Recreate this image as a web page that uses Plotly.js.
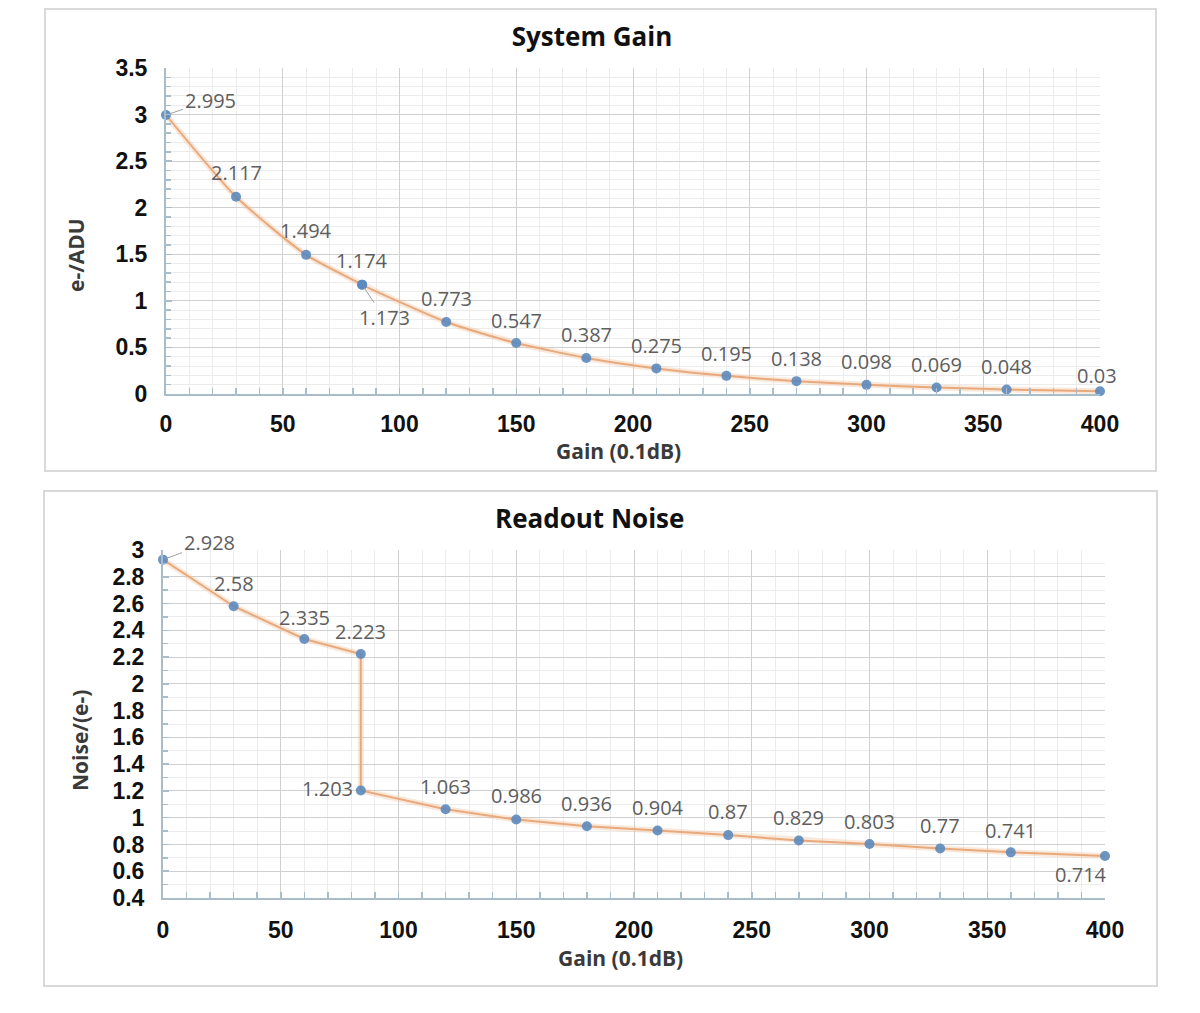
<!DOCTYPE html>
<html>
<head>
<meta charset="utf-8">
<script src="https://cdn.plot.ly/plotly-3.0.1.min.js"></script>
<style>html,body{margin:0;padding:0;background:#fff;}#chart{width:1200px;height:1013px;}</style>
</head>
<body>
<div id="chart"></div>
<script>
// ---- data ----
const gainX = [0, 30, 60, 84, 84, 120, 150, 180, 210, 240, 270, 300, 330, 360, 400];
const gainY = [2.995, 2.117, 1.494, 1.174, 1.173, 0.773, 0.547, 0.387, 0.275, 0.195, 0.138, 0.098, 0.069, 0.048, 0.03];
const noiseX = [0, 30, 60, 84, 84, 120, 150, 180, 210, 240, 270, 300, 330, 360, 400];
const noiseY = [2.928, 2.58, 2.335, 2.223, 1.203, 1.063, 0.986, 0.936, 0.904, 0.87, 0.829, 0.803, 0.77, 0.741, 0.714];
const gainTitle = "System Gain";
const noiseTitle = "Readout Noise";
const xTitle = "Gain (0.1dB)";
const gainYTitle = "e-/ADU";
const noiseYTitle = "Noise/(e-)";

// ---- label placement (pixel offsets, style only) ----
const gainLabelOff = [[44,-15,1],[0,-24,0],[0,-24,0],[0,-24,0],[22,33,1],[0,-23,0],[0,-23,0],[0,-23,0],[0,-23,0],[0,-22,0],[0,-23,0],[0,-23,0],[0,-23,0],[0,-23,0],[-3,-16,0]];
const noiseLabelOff = [[46,-17,1],[0,-23,0],[0,-22,0],[0,-23,0],[-33,-2,0],[0,-23,0],[0,-24,0],[0,-23,0],[0,-23,0],[0,-24,0],[0,-23,0],[0,-23,0],[0,-23,0],[0,-22,0],[-24,19,0]];

const W = 1200, H = 1013;
const px = v => v / W;
const py = v => 1 - v / H;

const lineColor = '#e8a97c';
const markerColor = 'rgba(92,138,190,0.9)';
const axisCol = '#a9bcc9';
const labelFont = {family: 'Open Sans, sans-serif', size: 20, color: '#5e5e5e'};

function mkTraces(x, y, xa, ya, shape) {
  return [
    {x: x, y: y, xaxis: xa, yaxis: ya, mode: 'lines', type: 'scatter',
     line: {color: 'rgba(240,190,150,0.35)', width: 6, shape: shape, smoothing: 0.6}, hoverinfo: 'skip', showlegend: false, cliponaxis: false},
    {x: x, y: y, xaxis: xa, yaxis: ya, mode: 'lines+markers', type: 'scatter',
     line: {color: lineColor, width: 2, shape: shape, smoothing: 0.6},
     marker: {color: markerColor, size: 10}, showlegend: false, cliponaxis: false}
  ];
}

const traces = [].concat(mkTraces(gainX, gainY, 'x', 'y', 'spline'), mkTraces(noiseX, noiseY, 'x2', 'y2', 'linear'));

const annotations = [];
function addLabels(x, y, offs, xr, yr) {
  for (let i = 0; i < x.length; i++) {
    const o = offs[i];
    annotations.push({
      x: x[i], y: y[i], xref: xr, yref: yr, text: String(y[i]),
      showarrow: true, ax: o[0], ay: o[1], arrowhead: 0, arrowwidth: 1, standoff: 4,
      arrowcolor: o[2] ? '#a0a0a0' : 'rgba(0,0,0,0)', font: labelFont
    });
  }
}
addLabels(gainX, gainY, gainLabelOff, 'x', 'y');
addLabels(noiseX, noiseY, noiseLabelOff, 'x2', 'y2');

const bigTitle = {family: 'Open Sans, sans-serif', size: 26, color: '#111', weight: 'bold'};
const titleFont = {family: 'Open Sans, sans-serif', size: 21, color: '#3a3a3a', weight: 'bold'};

function paperText(text, x, y, font, angle) {
  annotations.push({text: text, xref: 'paper', yref: 'paper', x: px(x), y: py(y), showarrow: false,
    xanchor: 'center', yanchor: 'middle', font: font, textangle: angle || 0});
}
paperText(noiseTitle, 589, 518, bigTitle);
paperText(xTitle, 618, 451, titleFont);
paperText(xTitle, 620, 958, titleFont);
paperText(gainYTitle, 76, 255, titleFont, -90);
paperText(noiseYTitle, 80, 741, titleFont, -90);

const tickFont = {family: 'Liberation Sans, Arial, sans-serif', size: 23, color: '#111', weight: 'bold'};

function xAxis(domain, anchor, standoff) {
  return {domain: domain, anchor: anchor, range: [0, 400], dtick: 50, tick0: 0,
    showgrid: true, gridcolor: '#d0d0d0', gridwidth: 1, zeroline: false,
    showline: true, linecolor: axisCol, linewidth: 2,
    ticks: 'inside', ticklen: 6, tickcolor: axisCol, tickwidth: 1.5,
    minor: {dtick: 10, showgrid: true, gridcolor: '#ececec', ticks: 'inside', ticklen: 6, tickcolor: axisCol},
    tickfont: tickFont, ticklabelstandoff: standoff, fixedrange: true};
}
function yAxis(domain, anchor, range, dtick) {
  return {domain: domain, anchor: anchor, range: range, dtick: dtick, tick0: 0,
    showgrid: true, gridcolor: '#d0d0d0', gridwidth: 1, zeroline: false,
    showline: true, linecolor: axisCol, linewidth: 2,
    ticks: 'inside', ticklen: 6, tickcolor: axisCol, tickwidth: 1.5,
    minor: {dtick: 0.1, showgrid: true, gridcolor: '#ececec', ticks: 'inside', ticklen: 5, tickcolor: axisCol},
    tickfont: tickFont, ticklabelstandoff: 12, fixedrange: true};
}

const layout = {
  width: W, height: H,
  margin: {l: 0, r: 0, t: 0, b: 0},
  paper_bgcolor: '#ffffff', plot_bgcolor: '#ffffff',
  showlegend: false,
  title: {text: gainTitle, x: px(592), y: py(37), xanchor: 'center', yanchor: 'middle',
    xref: 'paper', yref: 'paper', font: bigTitle},
  xaxis: xAxis([px(166), px(1100)], 'y', 8),
  yaxis: yAxis([py(394), py(68)], 'x', [0, 3.5], 0.5),
  xaxis2: xAxis([px(163), px(1105)], 'y2', 10),
  yaxis2: yAxis([py(898), py(550)], 'x2', [0.4, 3.0], 0.2),
  annotations: annotations,
  shapes: [
    {type: 'rect', xref: 'paper', yref: 'paper', x0: px(45), x1: px(1156), y0: py(471), y1: py(9),
     line: {color: '#d9d9d9', width: 2}, layer: 'below'},
    {type: 'rect', xref: 'paper', yref: 'paper', x0: px(44), x1: px(1157), y0: py(986), y1: py(491),
     line: {color: '#d9d9d9', width: 2}, layer: 'below'}
  ]
};

Plotly.newPlot('chart', traces, layout, {displayModeBar: false, staticPlot: true});
</script>
</body>
</html>
